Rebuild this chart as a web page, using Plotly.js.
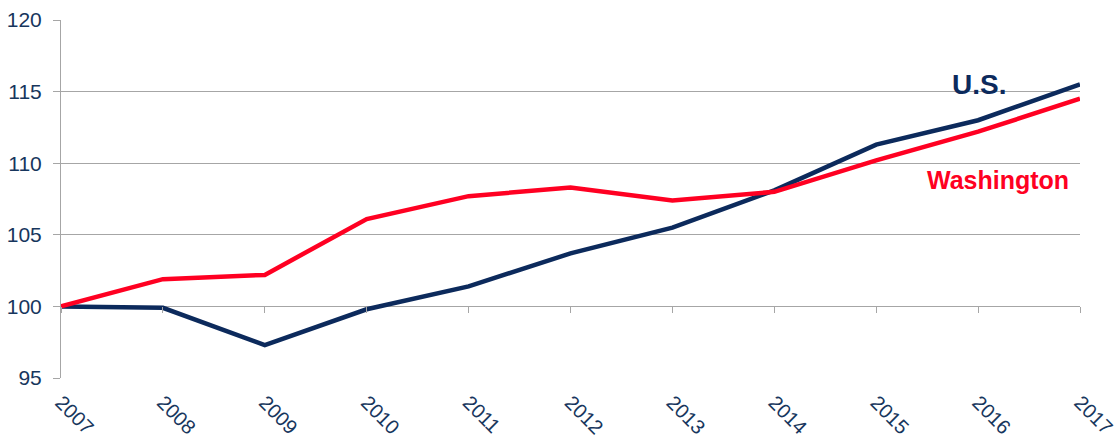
<!DOCTYPE html>
<html>
<head>
<meta charset="utf-8">
<script src="https://cdn.plot.ly/plotly-3.0.1.min.js"></script>
<style>html,body{margin:0;padding:0;background:#fff;}#chart{width:1118px;height:440px;}</style>
</head>
<body>
<div id="chart"></div>
<script>
const years = [2007, 2008, 2009, 2010, 2011, 2012, 2013, 2014, 2015, 2016, 2017];
const usValues = [100, 99.9, 97.3, 99.8, 101.4, 103.7, 105.5, 108.1, 111.3, 113.0, 115.5];
const waValues = [100, 101.9, 102.2, 106.1, 107.7, 108.3, 107.4, 108.0, 110.2, 112.2, 114.5];
const yTicks = [95, 100, 105, 110, 115, 120];
const seriesNames = ['U.S.', 'Washington'];

const FONT = '"Liberation Sans Narrow", "Arial Narrow", "Liberation Sans", Arial, sans-serif';
const NAVY = '#0C2A5C';
const RED = '#FF0022';
const TEXT = '#17365D';
const GRID = '#A6A6A6';

const traces = [
  {x: years, y: usValues, name: seriesNames[0], type: 'scatter', mode: 'lines',
   line: {color: NAVY, width: 4.5}},
  {x: years, y: waValues, name: seriesNames[1], type: 'scatter', mode: 'lines',
   line: {color: RED, width: 4.5}}
];

const layout = {
  width: 1118, height: 440,
  margin: {l: 61, r: 38, t: 20, b: 62},
  paper_bgcolor: '#fff', plot_bgcolor: '#fff',
  showlegend: false,
  font: {family: FONT, color: TEXT},
  xaxis: {
    range: [years[0], years[years.length - 1]],
    tickvals: years, ticktext: years.map(String),
    tickangle: 45, ticks: '', showgrid: false, zeroline: false, showline: false,
    tickfont: {family: FONT, size: 20, color: TEXT},
    ticklabelstandoff: 8, ticklabeloverflow: 'allow'
  },
  xaxis2: {
    overlaying: 'x', anchor: 'free', position: (100 - 95) / (120 - 95),
    range: [years[0], years[years.length - 1]],
    tickvals: years, ticks: 'outside', ticklen: 6, tickcolor: GRID, tickwidth: 1,
    showticklabels: false, showgrid: false, zeroline: false, showline: false
  },
  yaxis: {
    range: [95, 120], tickvals: yTicks,
    ticks: 'outside', ticklen: 7, tickcolor: GRID, tickwidth: 1,
    showgrid: true, gridcolor: GRID, gridwidth: 1,
    showline: true, linecolor: GRID, linewidth: 1, zeroline: false,
    tickfont: {family: FONT, size: 21, color: TEXT},
    ticklabelstandoff: 7
  },
  annotations: [
    {x: 2016.01, y: 115.5, xref: 'x', yref: 'y', text: '<b>U.S.</b>', showarrow: false,
     font: {family: FONT, size: 28, color: NAVY}},
    {x: 2016.2, y: 108.8, xref: 'x', yref: 'y', text: '<b>Washington</b>', showarrow: false,
     font: {family: FONT, size: 25, color: RED}}
  ]
};

// dummy trace to activate xaxis2 ticks
traces.push({x: [years[0]], y: [null], xaxis: 'x2', yaxis: 'y', type: 'scatter', mode: 'lines',
  hoverinfo: 'skip', showlegend: false});

Plotly.newPlot('chart', traces, layout, {staticPlot: true});
</script>
</body>
</html>
